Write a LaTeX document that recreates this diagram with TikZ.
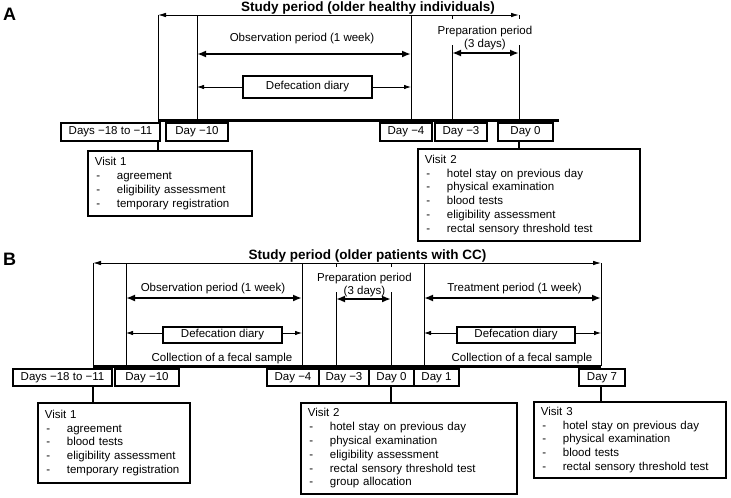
\documentclass[tikz,border=0pt]{standalone}
\usepackage{fontspec}
\setmainfont{Liberation Sans}
\usetikzlibrary{arrows.meta}
\newcommand{\itemdash}{\makebox[22pt][l]{\hspace{1.5pt}-}}
\begin{document}
\begin{tikzpicture}[x=1pt,y=-1pt,
 every node/.style={font=\fontsize{11.5}{13.8}\selectfont, inner sep=0pt},
 vline/.style={line width=0.8pt},
 tline/.style={line width=3pt},
 thinarr/.style={line width=0.8pt, {Latex[length=8pt,width=4.5pt]}-{Latex[length=8pt,width=4.5pt]}},
 onearr/.style={line width=0.8pt, -{Latex[length=7pt,width=4.5pt]}},
 thickarr/.style={line width=2.4pt, {Latex[length=9pt,width=7pt]}-{Latex[length=9pt,width=7pt]}},
 daybox/.style={draw, line width=1.8pt, minimum height=17.5pt},
 visitbox/.style={draw, line width=1.8pt, anchor=north west, align=left, inner xsep=7pt},
 diarybox/.style={draw, line width=1.8pt},
 lbl/.style={anchor=base},
 ttl/.style={anchor=base, font=\fontsize{13.5}{16}\selectfont\bfseries},
 panel/.style={anchor=base west, font=\fontsize{18}{20}\selectfont\bfseries},
 conn/.style={line width=1.8pt}]
\useasboundingbox (0,0) rectangle (731,498);

% ---------------- Panel A ----------------
\node[panel] (pA) at (3,20) {A};
\node[ttl] (tA) at (368,11.5) {Study period (older healthy individuals)};
\coordinate (a0t) at (158,15);  \coordinate (a0b) at (158,120.5);
\coordinate (a1t) at (197,15);  \coordinate (a1b) at (197,120.5);
\coordinate (a2t) at (411,15);  \coordinate (a2b) at (411,120.5);
\coordinate (a3t) at (452,15);  \coordinate (a3m) at (452,45); \coordinate (a3b) at (452,120.5);
\coordinate (a4t) at (519,15);  \coordinate (a4m) at (519,45); \coordinate (a4b) at (519,120.5);
\coordinate (aend) at (559,120.5);

\draw[thinarr] (a0t) -- (a4t);
\draw[vline] (a0t) -- (a0b);
\draw[vline] (a1t) -- (a1b);
\draw[vline] (a2t) -- (a2b);
\draw[vline] (a3m) -- (a3b);
\draw[vline] (a4m) -- (a4b);
\draw[vline] (a3t) -- ++(0,3.5);
\draw[vline] (a4t) -- ++(0,3.5);

\node[lbl] (oA) at (302,41) {Observation period (1 week)};
\draw[thickarr] (a1t |- 0,54) -- (a2t |- 0,54);
\node[lbl] (prA1) at (485,34.5) {Preparation period};
\node[lbl] (prA2) at (485,47.5) {(3 days)};
\draw[thickarr] (a3t |- 0,53) -- (a4t |- 0,53);

\node[diarybox, minimum width=129pt, minimum height=22pt] (dA) at (307.5,87) {Defecation diary};
\draw[onearr] (dA.west) -- (a1t |- dA.west);
\draw[onearr] (dA.east) -- (a2t |- dA.east);

\draw[tline] (a0b) -- (aend);

\node[daybox, minimum width=99pt] (dA1) at (110.5,132) {Days −18 to −11};
\node[daybox, minimum width=62pt] (dA2) at (197,132) {Day −10};
\node[daybox, minimum width=52pt] (dA3) at (406,132) {Day −4};
\node[daybox, minimum width=52pt] (dA4) at (461,132) {Day −3};
\node[daybox, minimum width=55pt] (dA5) at (525.5,132) {Day 0};

\node[visitbox, text width=150pt, minimum height=65pt] (vA1) at (87,150)
 {Visit 1\\\itemdash agreement\\\itemdash eligibility assessment\\\itemdash temporary registration};
\node[visitbox, text width=208pt, minimum height=92pt] (vA2) at (417,148)
 {Visit 2\\\itemdash hotel stay on previous day\\\itemdash physical examination\\\itemdash blood tests\\\itemdash eligibility assessment\\\itemdash rectal sensory threshold test};
\draw[conn] (dA1.south -| a0b) -- (vA1.north -| a0b);
\draw[conn] (dA5.south -| a4b) -- (vA2.north -| a4b);

% ---------------- Panel B ----------------
\node[panel] (pB) at (3,265) {B};
\node[ttl] (tB) at (367.5,259.5) {Study period (older patients with CC)};
\coordinate (b0t) at (93,263);  \coordinate (b0b) at (93,366);
\coordinate (b1t) at (126,263); \coordinate (b1b) at (126,366);
\coordinate (b2t) at (302,263); \coordinate (b2b) at (302,366);
\coordinate (b3t) at (336,263); \coordinate (b3m) at (336,292); \coordinate (b3b) at (336,366);
\coordinate (b4t) at (391,263); \coordinate (b4m) at (391,292); \coordinate (b4b) at (391,366);
\coordinate (b5t) at (424,263); \coordinate (b5b) at (424,366);
\coordinate (b6t) at (601,263); \coordinate (b6b) at (601,366);

\draw[thinarr] (b0t) -- (b6t);
\draw[vline] (b0t) -- (b0b);
\draw[vline] (b1t) -- (b1b);
\draw[vline] (b2t) -- (b2b);
\draw[vline] (b3m) -- (b3b);
\draw[vline] (b4m) -- (b4b);
\draw[vline] (b5t) -- (b5b);
\draw[vline] (b6t) -- (b6b);
\draw[vline] (b3t) -- ++(0,3.5);
\draw[vline] (b4t) -- ++(0,3.5);

\node[lbl] (oB) at (213,291) {Observation period (1 week)};
\draw[thickarr] (b1t |- 0,298) -- (b2t |- 0,298);
\node[lbl] (prB1) at (364.5,281) {Preparation period};
\node[lbl] (prB2) at (364.5,294.5) {(3 days)};
\draw[thickarr] (b3t |- 0,299) -- (b4t |- 0,299);
\node[lbl] (trB) at (514.5,291) {Treatment period (1 week)};
\draw[thickarr] (b5t |- 0,298) -- (b6t |- 0,298);

\node[diarybox, minimum width=119pt, minimum height=16pt] (dB1) at (222.5,335) {Defecation diary};
\node[diarybox, minimum width=118pt, minimum height=16pt] (dB2) at (516,335) {Defecation diary};
\draw[onearr] ([yshift=2pt]dB1.west) -- (b1t |- 0,333);
\draw[onearr] ([yshift=2pt]dB1.east) -- (b2t |- 0,333);
\draw[onearr] ([yshift=2pt]dB2.west) -- (b5t |- 0,333);
\draw[onearr] ([yshift=2pt]dB2.east) -- (b6t |- 0,333);
\node[lbl] (cB1) at (222,361.5) {Collection of a fecal sample};
\node[lbl] (cB2) at (522,361.5) {Collection of a fecal sample};

\draw[tline] (b0b) -- (b6b);

\node[daybox, minimum width=99pt, minimum height=17pt] (dB1d) at (62.5,377.5) {Days −18 to −11};
\node[daybox, minimum width=64pt, minimum height=17pt] (dB2d) at (147,377.5) {Day −10};
\node[daybox, minimum width=52pt, minimum height=17pt] (dB3d) at (293,377.5) {Day −4};
\node[daybox, minimum width=50pt, minimum height=17pt] (dB4d) at (344,377.5) {Day −3};
\node[daybox, minimum width=45pt, minimum height=17pt] (dB5d) at (391.5,377.5) {Day 0};
\node[daybox, minimum width=45pt, minimum height=17pt] (dB6d) at (436.5,377.5) {Day 1};
\node[daybox, minimum width=46pt, minimum height=17pt] (dB7d) at (602,377.5) {Day 7};

\node[visitbox, text width=138pt, minimum height=80pt] (vB1) at (37,402)
 {Visit 1\\\itemdash agreement\\\itemdash blood tests\\\itemdash eligibility assessment\\\itemdash temporary registration};
\node[visitbox, text width=202pt, minimum height=91pt] (vB2) at (300,402)
 {Visit 2\\\itemdash hotel stay on previous day\\\itemdash physical examination\\\itemdash eligibility assessment\\\itemdash rectal sensory threshold test\\\itemdash group allocation};
\node[visitbox, text width=178pt, minimum height=76pt] (vB3) at (533,401)
 {Visit 3\\\itemdash hotel stay on previous day\\\itemdash physical examination\\\itemdash blood tests\\\itemdash rectal sensory threshold test};
\draw[conn] (dB1d.south -| b0b) -- (vB1.north -| b0b);
\draw[conn] (dB5d.south -| b4b) -- (vB2.north -| b4b);
\draw[conn] (dB7d.south -| b6b) -- (vB3.north -| b6b);
\end{tikzpicture}
\end{document}
